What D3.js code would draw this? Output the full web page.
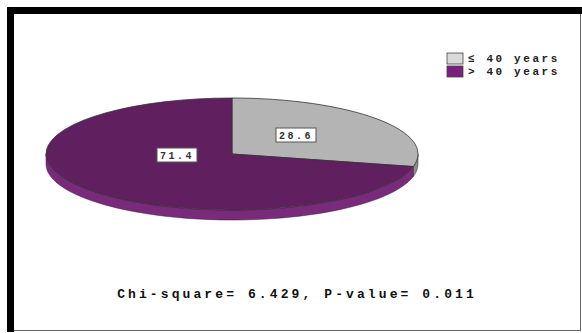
<!DOCTYPE html>
<html>
<head>
<meta charset="utf-8">
<script src="https://cdn.jsdelivr.net/npm/d3@7"></script>
<style>
  body { margin: 0; background: #fff; }
  svg text { font-family: "Liberation Mono", "DejaVu Sans Mono", monospace; font-weight: bold; }
</style>
</head>
<body>
<div id="chart-area"></div>
<script>
const W = 582, H = 333

// data
const groups = ["≤ 40 years", "> 40 years"]
const percents = [28.6, 71.4]
const topColors = ["#b4b4b4", "#602060"]
const sideColors = ["#8e8e8e", "#7a2a7a"]
const legendColors = ["#d9d9d9", "#7b1f7b"]
const caption = "Chi-square= 6.429, P-value= 0.011"

const svg = d3.select("#chart-area").append("svg")
  .attr("width", W)
  .attr("height", H)

// frame
svg.append("rect").attr("x", 7).attr("y", 7).attr("width", 575).attr("height", 7).attr("fill", "#000")
svg.append("rect").attr("x", 7).attr("y", 7).attr("width", 7).attr("height", 325).attr("fill", "#000")
svg.append("line").attr("x1", 580.5).attr("x2", 580.5).attr("y1", 14).attr("y2", 331)
  .attr("stroke", "#666").attr("stroke-width", 1)
svg.append("line").attr("x1", 14).attr("x2", 581).attr("y1", 330.5).attr("y2", 330.5)
  .attr("stroke", "#666").attr("stroke-width", 1)

// pie geometry
const CX = 232, CY = 154, RX = 186, RY = 56, DEPTH = 10

const pie = d3.pie().sort(null).value(d => d)
const arcs = pie(percents)

const pt = (a, dy) => [RX * Math.sin(a), -RY * Math.cos(a) + dy]

const g = svg.append("g").attr("transform", `translate(${CX},${CY})`)

// sides (only the front half shows)
arcs.forEach((d, i) => {
  const a0 = Math.max(d.startAngle, Math.PI / 2)
  const a1 = Math.min(d.endAngle, Math.PI * 1.5)
  if (a1 <= a0) return
  const steps = d3.range(0, 61).map(k => a0 + (a1 - a0) * k / 60)
  const pts = steps.map(a => pt(a, 0)).concat(steps.slice().reverse().map(a => pt(a, DEPTH)))
  g.append("path")
    .attr("d", d3.line()(pts) + "Z")
    .attr("fill", sideColors[i])
    .attr("stroke", "#3a1a3a")
    .attr("stroke-width", 0.5)
})

// top faces
const arc = d3.arc().innerRadius(0).outerRadius(RX)
g.append("g").attr("transform", `scale(1,${RY / RX})`)
  .selectAll("path")
  .data(arcs)
  .join("path")
  .attr("d", arc)
  .attr("fill", (d, i) => topColors[i])
  .attr("stroke", "#333")
  .attr("stroke-width", 0.8)
  .attr("vector-effect", "non-scaling-stroke")

// value labels
const labelPos = [[296, 135], [177, 155]]
arcs.forEach((d, i) => {
  const t = percents[i].toFixed(1)
  const lg = svg.append("g").attr("transform", `translate(${labelPos[i][0]},${labelPos[i][1]})`)
  lg.append("rect").attr("x", -20).attr("y", -7).attr("width", 40).attr("height", 14)
    .attr("fill", "#fff").attr("stroke", "#555").attr("stroke-width", 1)
  lg.append("text").attr("text-anchor", "middle").attr("dy", 4)
    .attr("font-size", 10).attr("font-weight", "normal").attr("letter-spacing", 2.5)
    .attr("fill", "#333").text(t)
})

// legend
const leg = svg.append("g").attr("transform", "translate(447,53)")
groups.forEach((name, i) => {
  leg.append("rect").attr("x", 0).attr("y", i * 13).attr("width", 16).attr("height", 11)
    .attr("fill", legendColors[i])
    .attr("stroke", "#444").attr("stroke-width", 0.8)
  leg.append("text").attr("x", 21).attr("y", i * 13 + 9)
    .attr("font-size", 11).attr("letter-spacing", 2.6).attr("fill", "#222")
    .text(name)
})

// caption
svg.append("text").attr("x", 297).attr("y", 298).attr("text-anchor", "middle")
  .attr("font-size", 13).attr("letter-spacing", 3.1).attr("fill", "#111")
  .text(caption)
</script>
</body>
</html>
